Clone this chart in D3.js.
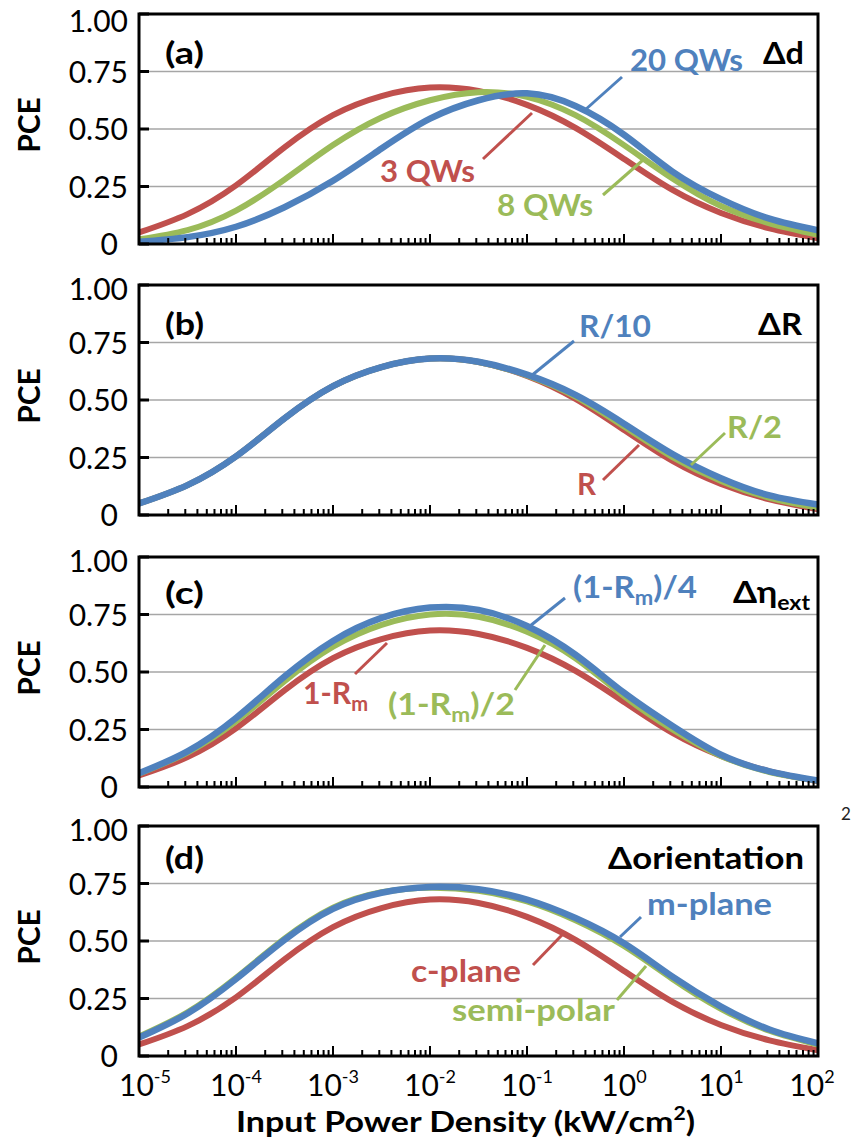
<!DOCTYPE html>
<html><head><meta charset="utf-8">
<script src="https://cdn.jsdelivr.net/npm/d3@7"></script>
<style>body{margin:0;background:#fff;} svg{display:block;font-family:Lato,"Open Sans",sans-serif;}</style>
</head><body>
<svg id="c" width="851" height="1142"></svg>
<script>
// ---- data ----
const xVals = [1e-5, 3.162e-5, 1e-4, 3.162e-4, 1e-3, 3.162e-3, 1e-2, 3.162e-2, 1e-1, 3.162e-1, 1, 3.162, 10, 31.62, 100];
const baseline = [0.05, 0.13, 0.255, 0.42, 0.56, 0.643, 0.68, 0.665, 0.605, 0.505, 0.37, 0.235, 0.135, 0.068, 0.025];
const qw8  = [0.02, 0.06, 0.145, 0.28, 0.43, 0.55, 0.625, 0.66, 0.64, 0.56, 0.43, 0.285, 0.165, 0.09, 0.04];
const qw20 = [0.01, 0.03, 0.075, 0.16, 0.275, 0.415, 0.545, 0.625, 0.655, 0.60, 0.475, 0.315, 0.195, 0.11, 0.06];
const rHalf  = [0.05, 0.13, 0.255, 0.42, 0.56, 0.643, 0.68, 0.665, 0.607, 0.515, 0.385, 0.252, 0.148, 0.075, 0.032];
const rTenth = [0.05, 0.13, 0.255, 0.42, 0.56, 0.643, 0.68, 0.666, 0.61, 0.522, 0.397, 0.265, 0.16, 0.085, 0.045];
const rmHalf    = [0.058, 0.15, 0.285, 0.46, 0.61, 0.705, 0.75, 0.74, 0.675, 0.56, 0.395, 0.25, 0.135, 0.065, 0.027];
const rmQuarter = [0.06, 0.155, 0.30, 0.48, 0.635, 0.735, 0.78, 0.77, 0.70, 0.575, 0.41, 0.265, 0.14, 0.068, 0.028];
const semiPolar = [0.085, 0.19, 0.34, 0.51, 0.645, 0.712, 0.732, 0.718, 0.672, 0.59, 0.478, 0.335, 0.205, 0.11, 0.05];
const mPlane    = [0.08, 0.185, 0.335, 0.505, 0.64, 0.71, 0.735, 0.725, 0.68, 0.60, 0.49, 0.345, 0.215, 0.115, 0.055];
const yTicks = [0, 0.25, 0.5, 0.75, 1.0];
const yTickLabels = ["0", "0.25", "0.50", "0.75", "1.00"];
const xTickDecades = [1e-5, 1e-4, 1e-3, 1e-2, 1e-1, 1, 10, 100];
const xTickExp = ["-5", "-4", "-3", "-2", "-1", "0", "1", "2"];
const colors = {red: "#C0504D", green: "#9BBB59", blue: "#4F81BD"};

const panels = [
  {top: 14, letter: "(a)", ly: 64, series: [baseline, qw8, qw20]},
  {top: 285, letter: "(b)", ly: 335, series: [baseline, rHalf, rTenth]},
  {top: 557, letter: "(c)", ly: 604, series: [baseline, rmHalf, rmQuarter]},
  {top: 826, letter: "(d)", ly: 869, series: [baseline, semiPolar, mPlane]}
];
const L = 139, R = 818, H = 230;
const svg = d3.select("#c");
const x = d3.scaleLog().domain([1e-5, 100]).range([L, R]);
const seriesColors = [colors.red, colors.green, colors.blue];
const seriesWidths = [6, 6, 6.5];

panels.forEach((p, pi) => {
  const y = d3.scaleLinear().domain([0, 1]).range([p.top + H, p.top]);
  const g = svg.append("g");
  g.selectAll("line.grid").data([0.25, 0.5, 0.75]).enter().append("line")
    .attr("x1", L).attr("x2", R).attr("y1", d => y(d)).attr("y2", d => y(d))
    .attr("stroke", "#A6A6A6").attr("stroke-width", 1.5);
  const line = d3.line().x((d, i) => x(xVals[i])).y(d => y(d)).curve(d3.curveNatural);
  const cp = "clip" + pi;
  svg.append("clipPath").attr("id", cp).append("rect").attr("x", L).attr("y", p.top).attr("width", R - L).attr("height", H);
  p.series.forEach((s, si) => {
    g.append("path").attr("d", line(s)).attr("fill", "none")
      .attr("stroke", seriesColors[si]).attr("stroke-width", seriesWidths[si])
      .attr("clip-path", `url(#${cp})`);
  });
  const minor = [];
  for (let dI = 0; dI < xTickDecades.length - 1; dI++) {
    for (let k = 2; k <= 9; k++) minor.push(xTickDecades[dI] * k);
  }
  g.selectAll("line.minor").data(minor).enter().append("line")
    .attr("x1", d => x(d)).attr("x2", d => x(d)).attr("y1", p.top + H).attr("y2", p.top + H - 6)
    .attr("stroke", "#000").attr("stroke-width", 2);
  g.selectAll("line.major").data(xTickDecades).enter().append("line")
    .attr("x1", d => x(d)).attr("x2", d => x(d)).attr("y1", p.top + H).attr("y2", p.top + H - 10)
    .attr("stroke", "#000").attr("stroke-width", 2);
  g.selectAll("line.yt").data(yTicks).enter().append("line")
    .attr("x1", L).attr("x2", L + 10).attr("y1", d => y(d)).attr("y2", d => y(d))
    .attr("stroke", "#000").attr("stroke-width", 3);
  g.append("rect").attr("x", L).attr("y", p.top).attr("width", R - L).attr("height", H)
    .attr("fill", "none").attr("stroke", "#000").attr("stroke-width", 3);
  g.selectAll("text.yl").data(yTicks).enter().append("text")
    .attr("x", (d, i) => i === 0 ? 118 : 128)
    .attr("y", (d, i) => y(d) + (i === 4 ? (pi === 0 ? 7 : 4) : 0) + 11)
    .attr("text-anchor", "end").attr("font-size", 30).attr("fill", "#000")
    .text((d, i) => yTickLabels[i]);
  g.append("text").attr("transform", `translate(40,${p.top + H / 2 - 4}) rotate(-90)`)
    .attr("text-anchor", "middle").attr("font-size", 30).attr("font-weight", "bold").text("PCE");
  g.append("text").attr("x", 165).attr("y", p.ly).attr("font-size", 30).attr("font-weight", "bold")
    .attr("textLength", 39).attr("lengthAdjust", "spacingAndGlyphs").text(p.letter);
});

// label helper: parts = [[text, isSub], ...]
function lbl(parts, xx, yy, color, width) {
  const t = svg.append("text").attr("x", xx).attr("y", yy).attr("font-size", 30)
    .attr("font-weight", "bold").attr("fill", color);
  if (width) t.attr("textLength", width).attr("lengthAdjust", "spacingAndGlyphs");
  let sub = false;
  parts.forEach(([s, isSub]) => {
    const ts = t.append("tspan").text(s);
    if (isSub && !sub) { ts.attr("font-size", 20).attr("dy", 7); sub = true; }
    else if (!isSub && sub) { ts.attr("dy", -7); sub = false; }
    else if (isSub) ts.attr("font-size", 20);
  });
  return t;
}
function leader(x1, y1, x2, y2, color) {
  svg.append("line").attr("x1", x1).attr("y1", y1).attr("x2", x2).attr("y2", y2)
    .attr("stroke", color).attr("stroke-width", 3);
}
// Panel (a)
lbl([["\u0394d"]], 763, 64, "#000", 41);
lbl([["20 QWs"]], 630, 71, colors.blue, 113);
leader(622, 77, 585, 110, colors.blue);
lbl([["3 QWs"]], 380, 182, colors.red, 95);
leader(483, 159, 532, 113, colors.red);
lbl([["8 QWs"]], 497, 216, colors.green, 96);
leader(603, 195, 643, 160, colors.green);
// Panel (b)
lbl([["\u0394R"]], 758, 335, "#000", 44);
lbl([["R/10"]], 579, 337, colors.blue, 72);
leader(574, 341, 531, 376, colors.blue);
lbl([["R/2"]], 727, 438, colors.green, 55);
leader(725, 433, 691, 465, colors.green);
lbl([["R"]], 577, 495, colors.red, 19);
leader(603, 480, 639, 445, colors.red);
// Panel (c)
lbl([["\u0394\u03b7"], ["ext", true]], 733, 603, "#000", 77);
lbl([["(1-R"], ["m", true], [")/4"]], 573, 598, colors.blue, 124);
leader(565, 598, 530, 626, colors.blue);
lbl([["1-R"], ["m", true]], 303, 704, colors.red, 65);
leader(355, 674, 387, 643, colors.red);
lbl([["(1-R"], ["m", true], [")/2"]], 388, 715, colors.green, 127);
leader(515, 690, 545, 645, colors.green);
// Panel (d)
lbl([["\u0394orientation"]], 608, 869, "#000", 196);
lbl([["m-plane"]], 647, 915, colors.blue, 125);
leader(641, 917, 620, 937, colors.blue);
lbl([["c-plane"]], 411, 982, colors.red, 110);
leader(533, 965, 562, 935, colors.red);
lbl([["semi-polar"]], 452, 1021, colors.green, 163);
leader(617, 1000, 646, 966, colors.green);
// stray "2" at right margin
svg.append("text").attr("x", 841).attr("y", 820).attr("font-size", 17).attr("fill", "#222").text("2");

// x axis labels under panel (d)
const xl = svg.append("g");
xTickDecades.forEach((d, i) => {
  const t = xl.append("text").attr("x", x(d) + (i === 0 ? 6 : i === 7 ? -6 : 0)).attr("y", 1096)
    .attr("font-size", 30).attr("text-anchor", "middle");
  t.append("tspan").text("10");
  t.append("tspan").attr("font-size", 18).attr("dy", -13).text(xTickExp[i]);
});
const xt = svg.append("text").attr("x", 236).attr("y", 1132).attr("font-size", 29).attr("font-weight", "bold")
  .attr("textLength", 459).attr("lengthAdjust", "spacingAndGlyphs");
xt.append("tspan").text("Input Power Density (kW/cm");
xt.append("tspan").attr("font-size", 18).attr("dy", -12).text("2");
xt.append("tspan").attr("dy", 12).text(")");
</script>
</body></html>
